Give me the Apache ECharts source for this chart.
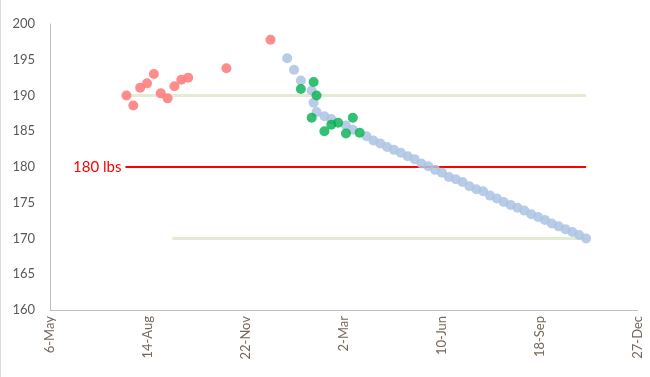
<!DOCTYPE html>
<html>
<head>
<meta charset="utf-8">
<script src="https://cdn.jsdelivr.net/npm/echarts@6/dist/echarts.min.js"></script>
<style>
  html, body { margin: 0; padding: 0; background: #fff; }
  #chart { width: 649px; height: 377px; border-left: 1px solid #d9d9d9; }
</style>
</head>
<body>
<div id="chart"></div>
<script>
// x axis runs in days from 6-May-2012, ticks every 100 days
var startDate = '2012-05-06';
var axisDays = 600;
var tickStep = 100;
var monthNames = ['Jan', 'Feb', 'Mar', 'Apr', 'May', 'Jun', 'Jul', 'Aug', 'Sep', 'Oct', 'Nov', 'Dec'];

// early weigh-ins (red)
var pastDates = ['2012-07-23', '2012-07-30', '2012-08-06', '2012-08-13', '2012-08-20', '2012-08-27',
  '2012-09-03', '2012-09-10', '2012-09-17', '2012-09-24', '2012-11-02', '2012-12-17'];
var pastWeights = [190.0, 188.6, 191.1, 191.7, 193.0, 190.3, 189.6, 191.3, 192.2, 192.5, 193.8, 197.8];

// plan (blue)
var planDates = ['2013-01-03', '2013-01-10', '2013-01-17', '2013-01-28', '2013-01-30', '2013-02-02',
  '2013-02-10', '2013-02-17', '2013-03-04', '2013-03-11', '2013-03-25', '2013-04-01', '2013-04-08',
  '2013-04-15', '2013-04-22', '2013-04-29', '2013-05-06', '2013-05-13', '2013-05-20', '2013-05-27',
  '2013-06-03', '2013-06-10', '2013-06-17', '2013-06-24', '2013-07-01', '2013-07-08', '2013-07-15',
  '2013-07-22', '2013-07-29', '2013-08-05', '2013-08-12', '2013-08-19', '2013-08-26', '2013-09-02',
  '2013-09-09', '2013-09-16', '2013-09-23', '2013-09-30', '2013-10-07', '2013-10-14', '2013-10-21',
  '2013-10-28', '2013-11-04'];
var planWeights = [195.2, 193.6, 192.1, 190.7, 189.0, 187.7, 187.1, 186.7, 185.8, 185.2, 184.3, 183.7,
  183.3, 182.8, 182.4, 182.0, 181.5, 181.1, 180.5, 180.1, 179.6, 179.2, 178.6, 178.3, 177.9, 177.3,
  176.9, 176.6, 176.0, 175.6, 175.1, 174.7, 174.3, 173.9, 173.4, 173.0, 172.6, 172.1, 171.7, 171.3,
  170.9, 170.5, 170.0];

// actual (green)
var actualDates = ['2013-01-17', '2013-01-28', '2013-01-30', '2013-02-02', '2013-02-10', '2013-02-17',
  '2013-02-24', '2013-03-04', '2013-03-11', '2013-03-18'];
var actualWeights = [190.9, 186.9, 191.9, 190.0, 185.0, 185.9, 186.2, 184.7, 186.9, 184.8];

// reference lines
var line190 = { dates: ['2012-07-23', '2013-11-04'], value: 190 };
var line170 = { dates: ['2012-09-08', '2013-11-04'], value: 170 };
var goal = { dates: ['2012-07-22', '2013-11-04'], value: 180, label: '180 lbs' };

var yMin = 160, yMax = 200, yStep = 5;

function toDay(s) {
  var p = s.split('-'), q = startDate.split('-');
  return (Date.UTC(+p[0], +p[1] - 1, +p[2]) - Date.UTC(+q[0], +q[1] - 1, +q[2])) / 86400000;
}
function dayLabel(v) {
  var q = startDate.split('-');
  var d = new Date(Date.UTC(+q[0], +q[1] - 1, +q[2]) + v * 86400000);
  return d.getUTCDate() + '-' + monthNames[d.getUTCMonth()];
}
function pts(dates, vals) {
  return dates.map(function (d, i) { return [toDay(d), vals[i]]; });
}
function flat(ref) {
  return ref.dates.map(function (d) { return [toDay(d), ref.value]; });
}

var myChart = echarts.init(document.getElementById('chart'));

var goalData = flat(goal);
goalData[0] = {
  value: goalData[0],
  label: { show: true, position: 'left', distance: 4, formatter: goal.label, color: '#ff0000', fontSize: 15, fontFamily: 'Lato' }
};

var option = {
  animation: false,
  grid: { left: 49, right: 12, top: 24, bottom: 67, outerBoundsMode: 'none' },
  xAxis: {
    type: 'value',
    min: 0,
    max: axisDays,
    interval: tickStep,
    splitLine: { show: false },
    axisLine: { lineStyle: { color: '#bfbfbf' } },
    axisTick: { show: false },
    axisLabel: {
      rotate: 90,
      margin: 6,
      color: '#76685c',
      fontSize: 13,
      fontFamily: 'Lato',
      formatter: dayLabel
    }
  },
  yAxis: {
    type: 'value',
    min: yMin,
    max: yMax,
    interval: yStep,
    splitLine: { show: false },
    axisLine: { show: true, lineStyle: { color: '#bfbfbf' } },
    axisTick: { show: false },
    axisLabel: { color: '#595959', fontSize: 13, fontFamily: 'Lato', margin: 15 }
  },
  series: [
    {
      type: 'line', data: flat(line190), showSymbol: false, symbol: 'none', z: 1,
      lineStyle: { color: '#e4ebd4', width: 3 }
    },
    {
      type: 'line', data: flat(line170), showSymbol: false, symbol: 'none', z: 1,
      lineStyle: { color: '#e4ebd4', width: 3 }
    },
    {
      type: 'line', data: goalData, symbol: 'circle', symbolSize: 0.1, showSymbol: true, z: 2,
      itemStyle: { color: '#ff0000' },
      lineStyle: { color: '#ff0000', width: 2 }
    },
    {
      type: 'scatter', data: pts(pastDates, pastWeights), symbolSize: 10, z: 3,
      itemStyle: { color: '#ff7f7f', opacity: 0.9 }
    },
    {
      type: 'scatter', data: pts(planDates, planWeights), symbolSize: 10, z: 3,
      itemStyle: { color: '#abc3e4', opacity: 0.85 }
    },
    {
      type: 'scatter', data: pts(actualDates, actualWeights), symbolSize: 10, z: 4,
      itemStyle: { color: '#00b050' }
    }
  ]
};

myChart.setOption(option);
</script>
</body>
</html>
